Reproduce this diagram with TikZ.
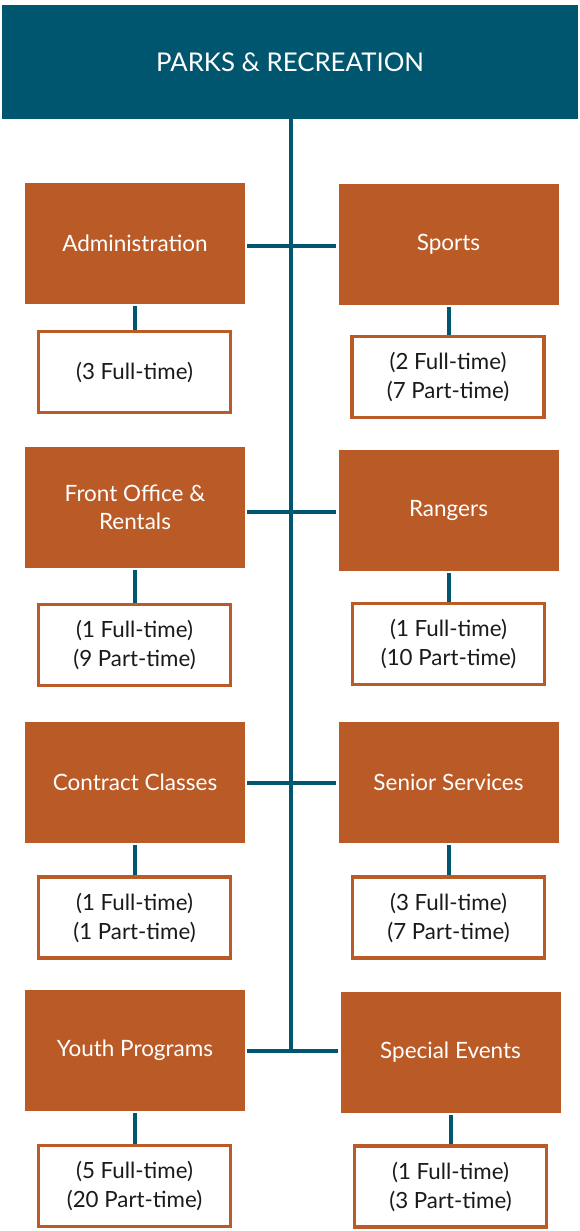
\documentclass[tikz,border=0pt]{standalone}
\usepackage{fontspec}
\setmainfont{Lato}
\definecolor{teal}{HTML}{00566F}
\definecolor{rust}{HTML}{BA5A27}
\definecolor{ink}{HTML}{1A1A1A}
\begin{document}
\begin{tikzpicture}[x=1pt,y=-1pt,
  head/.style={fill=teal,draw=none,text=white,minimum width=576pt,minimum height=113pt,inner sep=0pt,font=\fontsize{25.8}{30}\selectfont},
  dept/.style={fill=rust,draw=none,text=white,minimum width=220pt,minimum height=121pt,inner sep=0pt,align=center,font=\fontsize{22.5}{28}\selectfont},
  staff/.style={fill=white,draw=rust,line width=3.5pt,text=ink,minimum width=192pt,minimum height=81pt,inner sep=0pt,align=center,font=\fontsize{22.3}{29}\selectfont},
  link/.style={draw=teal,line width=4pt}]
\useasboundingbox (0,0) rectangle (580,1231);
\fill[white] (0,0) rectangle (580,1231);
% header
\node[head] (top) at (290,62) {PARKS \& RECREATION};
% departments
\node[dept] (adm) at (135,243.5) {Administration};
\node[dept] (spo) at (448.5,244.5) {Sports};
\node[dept] (fro) at (135,507.5) {Front Office \&\\Rentals};
\node[dept] (ran) at (448.5,510.5) {Rangers};
\node[dept] (con) at (135,782.5) {Contract Classes};
\node[dept] (sen) at (448.5,782.5) {Senior Services};
\node[dept] (you) at (135,1050.5) {Youth Programs};
\node[dept] (spe) at (450.5,1052.5) {Special Events};
% staffing boxes
\node[staff] (admS) at (134.5,372) {(3 Full-time)};
\node[staff] (spoS) at (448,377) {(2 Full-time)\\(7 Part-time)};
\node[staff] (froS) at (134.5,645) {(1 Full-time)\\(9 Part-time)};
\node[staff] (ranS) at (448.5,644) {(1 Full-time)\\(10 Part-time)};
\node[staff] (conS) at (134.5,917.5) {(1 Full-time)\\(1 Part-time)};
\node[staff] (senS) at (448.5,917.5) {(3 Full-time)\\(7 Part-time)};
\node[staff] (youS) at (134.5,1186) {(5 Full-time)\\(20 Part-time)};
\node[staff] (speS) at (450.5,1186.5) {(1 Full-time)\\(3 Part-time)};
% trunk and row joints
\coordinate (r1) at (291,246);
\coordinate (r2) at (291,512);
\coordinate (r3) at (291,783);
\coordinate (r4) at (291,1051);
\draw[link] (top.south -| r1) -- ([yshift=2pt]r4);
\draw[link,shorten <=2pt,shorten >=2pt] (adm.east |- r1) -- (spo.west |- r1);
\draw[link,shorten <=2pt,shorten >=2pt] (fro.east |- r2) -- (ran.west |- r2);
\draw[link,shorten <=2pt,shorten >=2pt] (con.east |- r3) -- (sen.west |- r3);
\draw[link,shorten <=2pt,shorten >=2pt] (you.east |- r4) -- (spe.west |- r4);
% stubs down to staffing
\foreach \d in {adm,spo,fro,ran,con,sen,you,spe}
  \draw[link,shorten <=2pt] (\d.south) -- (\d.south |- \d S.north);
\end{tikzpicture}
\end{document}
